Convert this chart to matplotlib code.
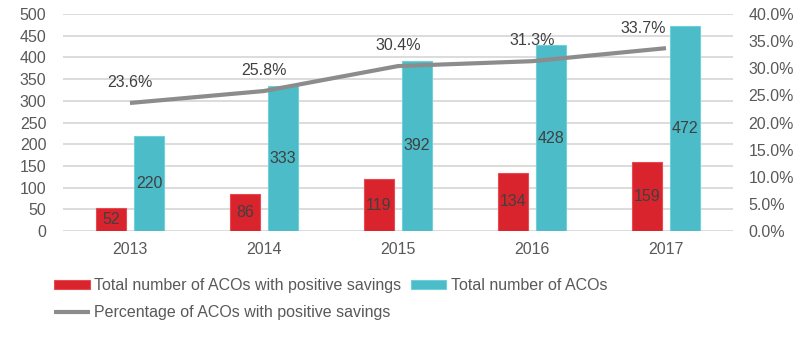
import matplotlib
matplotlib.use("Agg")
import matplotlib.pyplot as plt
import numpy as np

years = ["2013", "2014", "2015", "2016", "2017"]
positive = [52, 86, 119, 134, 159]
total = [220, 333, 392, 428, 472]
pct = [23.6, 25.8, 30.4, 31.3, 33.7]

RED = "#D9232D"
CYAN = "#4BBCC8"
GRAY_LINE = "#8C8C8C"
TXT = "#595959"
GRID = "#D9D9D9"
FS = 11.5

plt.rcParams['font.family'] = ['Liberation Sans', 'DejaVu Sans']

fig = plt.figure(figsize=(8, 3.38), dpi=100)
ax = fig.add_axes([63/800, 1-231/338, (733-63)/800, (231-14)/338])
ax2 = ax.twinx()

x = np.arange(len(years))
w = 0.224
off = 0.142
b1 = ax.bar(x - off, positive, w, color=RED, edgecolor="#E84A52", linewidth=0.8, zorder=3,
            label="Total number of ACOs with positive savings")
b2 = ax.bar(x + off, total, w, color=CYAN, edgecolor="#6FD0DA", linewidth=0.8, zorder=3,
            label="Total number of ACOs")
for xi, v in zip(x, positive):
    ax.text(xi - off, v / 2, str(v), ha="center", va="center", fontsize=FS, color="#404040", zorder=4)
for xi, v in zip(x, total):
    ax.text(xi + off, v / 2, str(v), ha="center", va="center", fontsize=FS, color="#404040", zorder=4)

ax.set_ylim(0, 500)
ax.set_yticks(np.arange(0, 501, 50))
ax.set_xlim(-0.5, len(years) - 0.5)
ax.set_xticks(x)
ax.set_xticklabels(years)
ax.grid(axis="y", color=GRID, linewidth=1.3, zorder=0)
ax.set_axisbelow(True)
for s in ax.spines.values():
    s.set_visible(False)
ax.tick_params(axis="both", length=0, labelsize=FS, colors=TXT)
ax.tick_params(axis="y", pad=12)
ax.tick_params(axis="x", pad=8)

ln, = ax2.plot(x, pct, color=GRAY_LINE, linewidth=3, zorder=5,
               label="Percentage of ACOs with positive savings", solid_capstyle="butt")
ax2.set_ylim(0, 40)
ax2.set_yticks(np.arange(0, 40.1, 5))
ax2.set_yticklabels([f"{v:.1f}%" for v in np.arange(0, 40.1, 5)])
for s in ax2.spines.values():
    s.set_visible(False)
ax2.tick_params(axis="y", length=0, labelsize=FS, colors=TXT, pad=11)
for i, (xi, v) in enumerate(zip(x, pct)):
    if i == len(pct) - 1:
        ax2.annotate(f"{v}%", (xi, v), xytext=(0, 14), textcoords="offset points",
                     ha="right", va="center", fontsize=FS, color="#404040")
    else:
        ax2.annotate(f"{v}%", (xi, v), xytext=(0, 15), textcoords="offset points",
                     ha="center", va="center", fontsize=FS, color="#404040")

ax.set_zorder(0)
ax2.set_zorder(1)
ax2.patch.set_visible(False)

leg = fig.legend(handles=[b1, ln, b2], loc="upper left", bbox_to_anchor=(48/800, 1-272/338),
                 ncol=2, frameon=False, fontsize=FS, handlelength=2.2, handleheight=0.45,
                 handletextpad=0.3, columnspacing=0.6, labelspacing=0.75, borderaxespad=0)
for t in leg.get_texts():
    t.set_color(TXT)

fig.savefig("out.png", dpi=100)
